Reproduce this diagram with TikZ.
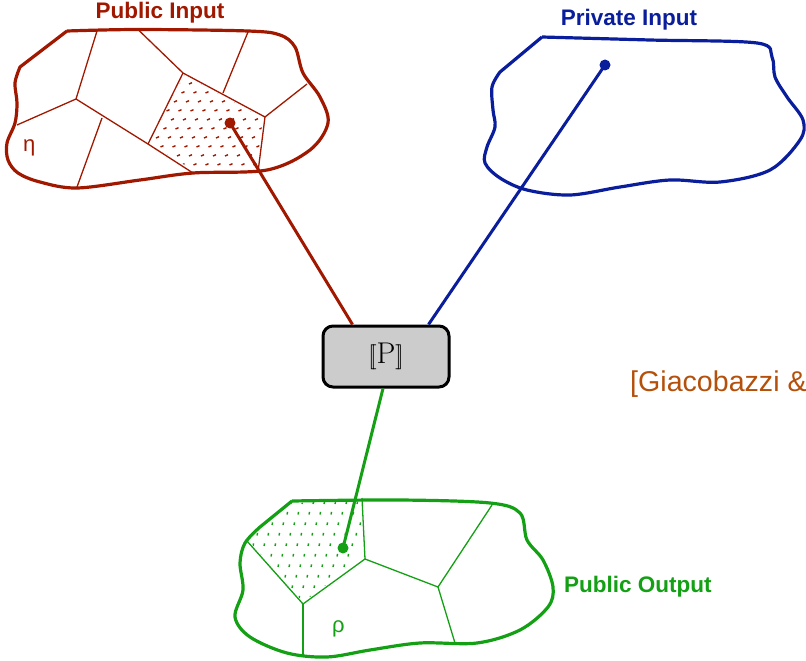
\documentclass[tikz,border=0pt]{standalone}
\usepackage{fontspec}
\newfontfamily\lab{Liberation Sans}
\definecolor{redc}{RGB}{160,24,0}
\definecolor{bluec}{RGB}{10,30,155}
\definecolor{greenc}{RGB}{20,160,20}
\definecolor{orangec}{RGB}{180,80,10}
\tikzset{
  blob/.style={line width=3.2pt, line join=round},
  cell/.style={line width=1.3pt},
  conn/.style={line width=3pt},
  pdot/.style={circle, fill, inner sep=0pt, minimum size=11pt},
  pbox/.style={draw=black, fill=black!20, line width=3pt, rounded corners=10pt,
    minimum width=126pt, minimum height=61pt, inner sep=0pt},
  title/.style={font=\lab\bfseries\fontsize{22.5}{26}\selectfont, inner sep=0pt},
  greek/.style={font=\lab\fontsize{22}{26}\selectfont, inner sep=0pt, anchor=base west},
}
\begin{document}
\begin{tikzpicture}[x=1pt,y=-1pt]
\useasboundingbox (0,0) rectangle (806,661);
\clip (0,0) rectangle (806,661);

% ---------- Public input (red) ----------
\begin{scope}
\clip (184,75)--(263,118)--(256,171)--(194,171)--(150,143)--cycle;
\foreach \j in {0,...,12} \foreach \i in {-6,...,12}
  \draw[redc, line width=1.4pt] ({120+12*\i+4.5*\j},{66+9*\j}) -- ++(3,-1.3);
\end{scope}
\draw[redc, blob] plot[smooth, tension=0.55] coordinates {(67,31) (138,29.5) (248,31) (280,35) (295,47) (303,73) (320,97) (328,123) (310,150) (267,170) (193,173) (140,180) (77,188) (40,182) (18,173) (8,160) (7,143) (15,123) (17,103) (15,83) (20,67)} -- (67,31);
\draw[redc, cell] (97,31) -- (76,99) -- (17,125);
\draw[redc, cell] (76,99) -- (148,144) -- (193,173);
\draw[redc, cell] (102,118) -- (77,187);
\draw[redc, cell] (138,29.5) -- (183,73) -- (265,117) -- (258,172);
\draw[redc, cell] (183,73) -- (148,144);
\draw[redc, cell] (248,32) -- (223,93);
\draw[redc, cell] (265,117) -- (307,84);
\node[title, text=redc] (pubin) at (160,13) {Public Input};
\node[greek, text=redc] (eta) at (23,151) {η};

% ---------- Private input (blue) ----------
\draw[bluec, blob] plot[smooth, tension=0.55] coordinates {(542,37) (650,40) (757,43) (772,57) (775,77) (787,97) (803,120) (800,140) (770,170) (720,182) (670,180) (620,187) (570,195) (527,190) (500,178) (485,163) (487,147) (495,127) (493,110) (492,87) (500,72)} -- (542,37);
\node[title, text=bluec] (privin) at (629,20) {Private Input};

% ---------- Public output (green) ----------
\begin{scope}
\clip (292,503)--(360,500)--(363,558)--(303,602)--(249,541)--(262,527)--cycle;
\foreach \j in {0,...,12} \foreach \i in {-6,...,12}
  \draw[greenc, line width=1.4pt] ({236+11*\i-4*\j},{504+10.5*\j}) -- ++(0.6,-2.6);
\end{scope}
\draw[greenc, blob] plot[smooth, tension=0.55] coordinates {(292,501) (400,500) (490,503) (520,513) (527,540) (543,560) (553,587) (548,607) (520,630) (477,643) (420,643) (370,650) (327,657) (287,653) (250,637) (235,617) (243,590) (240,563) (245,543) (260,527)} -- (292,501);
\draw[greenc, cell] (362,498) -- (365,559) -- (303,604) -- (247,541);
\draw[greenc, cell] (303,604) -- (303,657);
\draw[greenc, cell] (365,559) -- (438,587) -- (492,505);
\draw[greenc, cell] (438,587) -- (455,643);
\node[title, text=greenc, anchor=west] (pubout) at (564,587) {Public Output};
\node[greek, text=greenc] (rho) at (332,632) {ρ};

% ---------- program box ----------
\node[pbox] (P) at (386,356.5) {\fontsize{30}{34}\selectfont$[\![\mathrm{P}]\!]$};

% ---------- points and connectors ----------
\node[pdot, fill=redc] (rdot) at (230,123) {};
\node[pdot, fill=bluec] (bdot) at (605,65) {};
\node[pdot, fill=greenc] (gdot) at (343,548) {};
\draw[redc, conn] (rdot.center) -- ([xshift=31pt]P.north west);
\draw[bluec, conn] (bdot.center) -- ([xshift=-22pt]P.north east);
\draw[greenc, conn] ([xshift=-3pt]P.south) -- (gdot.center);

% ---------- citation ----------
\node[font=\lab\fontsize{28.6}{32}\selectfont, text=orangec, anchor=base west, inner sep=0pt] (cite) at (630,391) {[Giacobazzi \&};
\end{tikzpicture}
\end{document}
